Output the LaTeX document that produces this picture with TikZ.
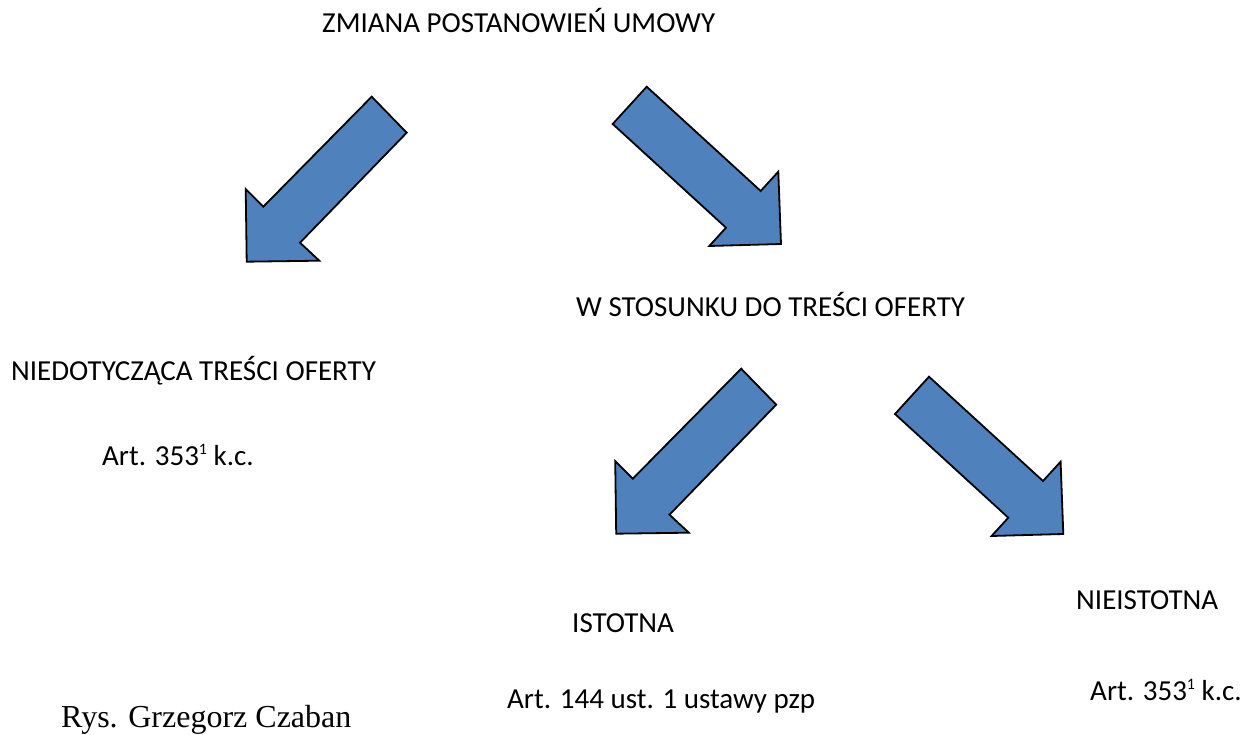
\documentclass[tikz,border=0pt]{standalone}
\usepackage{fontspec}
\setmainfont{Carlito}
\newfontfamily\capfont{Liberation Serif}
\definecolor{arrowblue}{HTML}{4F81BD}
\newcommand{\supone}{\raisebox{0.36em}{\fontsize{16}{16}\selectfont 1}}
\tikzset{
  lbl/.style={anchor=base west, inner sep=0pt, font=\fontsize{29}{34}\selectfont},
  caplbl/.style={anchor=base west, inner sep=0pt, font=\capfont\fontsize{32}{36}\selectfont},
  blockarrow/.style={fill=arrowblue, draw=black, line width=1.8pt, line join=miter},
  downleft/.pic={\path[blockarrow] (0,0) -- (35,36) -- (-71.7,146) -- (-52.4,164) -- (-125,165) -- (-126,92.3) -- (-108.4,110) -- cycle;},
  downright/.pic={\path[blockarrow] (0,0) -- (114,104.3) -- (131.6,85) -- (134.3,157.3) -- (62.6,159.3) -- (79.3,141) -- (-34,37.3) -- cycle;}
}
\begin{document}
\begin{tikzpicture}[x=1pt,y=-1pt]
\useasboundingbox (0,0) rectangle (1243,735);
\fill[white] (0,0) rectangle (1243,735);
\pic at (371.7,96.7) {downleft};
\pic at (646.7,86.7) {downright};
\pic at (741.2,368.7) {downleft};
\pic at (929,376.7) {downright};
\node[lbl] (ztitle) at (322,33) {ZMIANA POSTANOWIEŃ UMOWY};
\node[lbl] (wstos) at (576,317) {W STOSUNKU DO TREŚCI OFERTY};
\node[lbl] (niedot) at (11,381) {NIEDOTYCZĄCA TREŚCI OFERTY};
\node[lbl] (artL) at (102,465) {Art. 353\supone{} k.c.};
\node[lbl] (istotna) at (572,632) {ISTOTNA};
\node[lbl] (nieist) at (1076,609) {NIEISTOTNA};
\node[lbl] (art144) at (507,708) {Art. 144 ust. 1 ustawy pzp};
\node[lbl] (artR) at (1090,700) {Art. 353\supone{} k.c.};
\node[caplbl] (rys) at (61,727) {Rys. Grzegorz Czaban};
\end{tikzpicture}
\end{document}
